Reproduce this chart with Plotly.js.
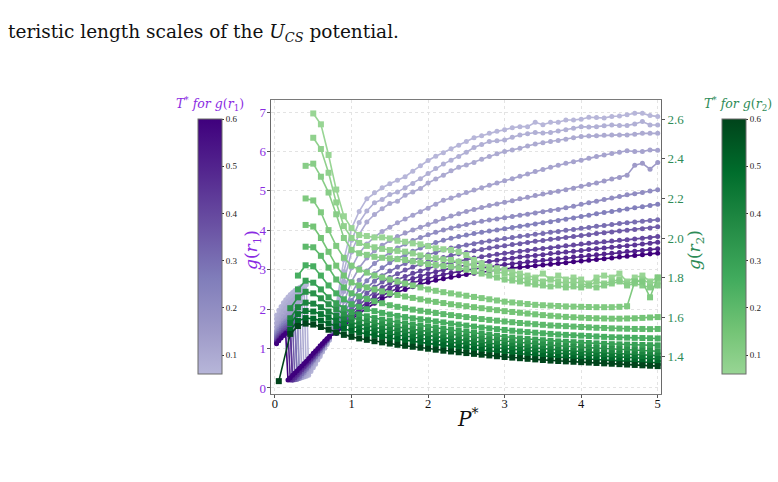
<!DOCTYPE html>
<html>
<head>
<meta charset="utf-8">
<script src="https://cdn.plot.ly/plotly-3.0.1.min.js"></script>
<style>
  html, body { margin: 0; padding: 0; background: #ffffff; }
  #plot { width: 778px; height: 482px; }
</style>
</head>
<body>
<div id="plot"></div>
<script>
// Temperatures T* shared by both families of curves
const TEMPS = [0.06, 0.08, 0.1, 0.12, 0.15, 0.2, 0.25, 0.3, 0.35, 0.4, 0.45, 0.5, 0.6];

// Pressure grid for g(r1): fine steps at low P, then 0.1 steps
const P_R1 = [0.02,0.05,0.08,0.11,0.14,0.17,0.20,0.23,0.26,0.29,0.32,0.35,0.38,0.41,0.44,0.47,0.50,0.53,0.56,0.59,0.62,0.65,0.68,0.71,
  0.8,0.9,1.0,1.1,1.2,1.3,1.4,1.5,1.6,1.7,1.8,1.9,2.0,2.1,2.2,2.3,2.4,2.5,2.6,2.7,2.8,2.9,3.0,3.1,3.2,3.3,3.4,3.5,3.6,3.7,
  3.8,3.9,4.0,4.1,4.2,4.3,4.4,4.5,4.6,4.7,4.8,4.9,5.0];

// Pressure grid for g(r2)
const P_R2 = [0.05,0.2,0.3,0.4,0.5,0.6,0.7,0.8,0.9,1.0,1.1,1.2,1.3,1.4,1.5,1.6,1.7,1.8,1.9,2.0,2.1,2.2,2.3,2.4,2.5,2.6,2.7,2.8,2.9,3.0,
  3.1,3.2,3.3,3.4,3.5,3.6,3.7,3.8,3.9,4.0,4.1,4.2,4.3,4.4,4.5,4.6,4.7,4.8,4.9,5.0];

// g(r1) at each temperature (on P_R1)
const g1_t006 = [1.85,1.97,2.07,2.16,2.24,2.31,2.37,2.42,2.47,2.51,2.55,2.58,2.6,2.62,0.32,0.42,0.51,0.6,0.71,0.8,0.91,1.01,1.1,1.21,
  2.1,3.25,4.05,4.48,4.8,4.95,5.08,5.18,5.27,5.36, 5.5,5.64,5.77,5.88,5.97,6.07,6.16,6.25,6.35,6.4,
  6.46,6.51,6.55,6.6,6.63,6.63,6.74,6.68,6.74,6.74, 6.8,6.8,6.82,6.87,6.86,6.85,6.89,6.9,6.93,6.97, 6.97,6.91,6.89];
const g1_t008 = [1.75,1.86,1.96,2.05,2.13,2.2,2.26,2.32,2.37,2.41,2.45,2.48,2.5,0.3,0.38,0.47,0.56,0.65,0.74,0.84,0.93,1.02,1.12,1.22,
  1.95,2.95,3.75,4.2,4.49,4.7,4.78,4.91,4.97,5.08, 5.19,5.31,5.44,5.57,5.68,5.78,5.87,5.98,6.1,6.18,
  6.25,6.27,6.29,6.36,6.42,6.45,6.48,6.47,6.48,6.52, 6.55,6.59,6.63,6.62,6.63,6.65,6.67,6.66,6.66,6.7, 6.76,6.67,6.67];
const g1_t010 = [1.65,1.76,1.86,1.95,2.03,2.1,2.16,2.22,2.27,2.31,2.35,2.38,0.28,0.36,0.44,0.52,0.61,0.69,0.78,0.87,0.96,1.05,1.14,1.24,
  1.85,2.7,3.45,3.9,4.21,4.4,4.55,4.68,4.74,4.89, 4.97,5.06,5.2,5.3,5.4,5.51,5.6,5.66,5.72,5.8,
  5.87,5.94,6.0,6.04,6.08,6.14,6.19,6.22,6.25,6.28, 6.31,6.35,6.38,6.39,6.4,6.41,6.42,6.42,6.42,6.44, 6.46,6.46,6.46];
const g1_t012 = [1.55,1.65,1.74,1.82,1.9,1.96,2.02,2.08,2.12,2.16,2.2,0.26,0.33,0.41,0.49,0.57,0.65,0.73,0.81,0.9,0.98,1.07,1.16,1.26,
  1.75,2.45,3.05,3.42,3.65,3.83,3.97,4.08,4.19,4.29, 4.38,4.47,4.56,4.66,4.76,4.82,4.89,4.96,5.02,5.08,
  5.14,5.2,5.26,5.31,5.37,5.43,5.49,5.54,5.6,5.65, 5.7,5.74,5.78,5.83,5.87,5.91,5.95,5.98,6.02,6.0, 6.0,6.04,6.03];
const g1_t015 = [1.45,1.55,1.64,1.72,1.79,1.85,1.9,1.94,1.97,2.0,0.25,0.32,0.4,0.47,0.55,0.62,0.7,0.78,0.86,0.94,1.02,1.1,1.19,1.28,
  1.65,2.2,2.7,3.05,3.3,3.48,3.62,3.74,3.84,3.93, 4.01,4.08,4.15,4.23,4.3,4.36,4.42,4.48,4.53,4.58,
  4.63,4.67,4.71,4.75,4.8,4.84,4.88,4.92,4.96,4.99, 5.03,5.07,5.12,5.16,5.2,5.25,5.3,5.34,5.4,5.65, 5.7,5.55,5.72];
const g1_t020 = [1.4,1.49,1.57,1.64,1.7,1.75,1.79,1.83,1.86,1.88,0.24,0.31,0.38,0.46,0.53,0.61,0.69,0.77,0.85,0.93,1.01,1.1,1.19,1.28,
  1.58,2.0,2.4,2.73,2.97,3.16,3.31,3.44,3.55,3.65, 3.74,3.82,3.89,3.95,4.01,4.06,4.11,4.15,4.19,4.23,
  4.26,4.29,4.32,4.35,4.38,4.41,4.44,4.47,4.5,4.53, 4.57,4.61,4.66,4.7,4.74,4.78,4.82,4.86,4.9,4.93, 4.96,5.0,5.03];
const g1_t025 = [1.35,1.44,1.52,1.59,1.65,1.7,1.74,1.76,1.78,0.23,0.3,0.37,0.44,0.51,0.59,0.66,0.74,0.81,0.89,0.97,1.05,1.13,1.21,1.29,
  1.52,1.88,2.22,2.5,2.72,2.9,3.05,3.18,3.29,3.38, 3.47,3.55,3.62,3.69,3.75,3.8,3.84,3.88,3.92,3.95,
  3.98,4.01,4.04,4.07,4.1,4.13,4.16,4.19,4.22,4.25, 4.28,4.31,4.35,4.38,4.42,4.45,4.48,4.51,4.54,4.57, 4.6,4.63,4.66];
const g1_t030 = [1.3,1.39,1.47,1.53,1.58,1.62,1.65,1.68,1.7,0.22,0.29,0.36,0.43,0.5,0.57,0.65,0.72,0.8,0.87,0.95,1.03,1.11,1.19,1.28,
  1.48,1.8,2.08,2.33,2.54,2.71,2.85,2.97,3.07,3.16, 3.24,3.31,3.38,3.44,3.5,3.55,3.59,3.63,3.66,3.7,
  3.73,3.76,3.79,3.82,3.85,3.87,3.9,3.92,3.95,3.97, 4.0,4.02,4.05,4.07,4.1,4.12,4.15,4.17,4.19,4.21, 4.23,4.25,4.27];
const g1_t035 = [1.25,1.34,1.41,1.47,1.52,1.56,1.58,1.6,0.21,0.28,0.35,0.42,0.49,0.56,0.63,0.7,0.77,0.85,0.92,1.0,1.07,1.15,1.22,1.3,
  1.46,1.73,1.98,2.2,2.4,2.56,2.69,2.8,2.9,2.99, 3.07,3.14,3.2,3.26,3.31,3.36,3.4,3.44,3.48,3.51,
  3.55,3.58,3.61,3.64,3.66,3.69,3.72,3.74,3.77,3.79, 3.82,3.84,3.87,3.89,3.92,3.94,3.96,3.98,4.0,4.02, 4.04,4.06,4.09];
const g1_t040 = [1.2,1.29,1.36,1.42,1.46,1.5,1.52,0.2,0.27,0.33,0.4,0.47,0.54,0.6,0.67,0.74,0.81,0.88,0.95,1.02,1.09,1.16,1.23,1.3,
  1.44,1.68,1.9,2.1,2.28,2.43,2.55,2.66,2.75,2.83, 2.91,2.97,3.03,3.09,3.14,3.18,3.22,3.26,3.3,3.33,
  3.36,3.39,3.42,3.44,3.47,3.49,3.52,3.54,3.56,3.58, 3.61,3.63,3.65,3.67,3.69,3.71,3.73,3.75,3.76,3.78, 3.8,3.82,3.84];
const g1_t045 = [1.17,1.25,1.32,1.37,1.41,1.45,1.48,0.2,0.26,0.33,0.4,0.46,0.53,0.6,0.66,0.73,0.8,0.87,0.94,1.01,1.08,1.15,1.22,1.29,
  1.42,1.63,1.83,2.02,2.18,2.32,2.44,2.54,2.63,2.71, 2.78,2.84,2.9,2.95,3.0,3.04,3.08,3.12,3.15,3.18,
  3.21,3.24,3.27,3.29,3.32,3.34,3.36,3.38,3.41,3.43, 3.45,3.47,3.49,3.51,3.53,3.55,3.57,3.59,3.61,3.63, 3.65,3.67,3.7];
const g1_t050 = [1.14,1.22,1.29,1.34,1.4,1.44,0.2,0.26,0.32,0.38,0.45,0.51,0.57,0.64,0.7,0.77,0.84,0.91,0.97,1.04,1.11,1.18,1.24,1.3,
  1.4,1.6,1.78,1.95,2.1,2.23,2.34,2.44,2.53,2.6, 2.67,2.73,2.78,2.83,2.88,2.92,2.96,2.99,3.02,3.05,
  3.08,3.1,3.13,3.15,3.17,3.2,3.22,3.24,3.26,3.28, 3.3,3.32,3.34,3.36,3.38,3.4,3.42,3.44,3.46,3.47, 3.49,3.51,3.53];
const g1_t060 = [1.12,1.2,1.27,1.33,1.38,0.2,0.26,0.32,0.38,0.44,0.5,0.56,0.62,0.68,0.75,0.81,0.88,0.94,1.0,1.07,1.13,1.19,1.25,1.31,
  1.38,1.56,1.73,1.89,2.03,2.15,2.26,2.35,2.43,2.5, 2.57,2.63,2.68,2.73,2.77,2.81,2.85,2.88,2.91,2.94,
  2.97,2.99,3.02,3.04,3.06,3.08,3.1,3.12,3.14,3.16, 3.18,3.2,3.22,3.24,3.26,3.28,3.3,3.32,3.34,3.36, 3.38,3.4,3.42];

// First pressure of each g(r2) curve (taken from P_R2)
const R2_START = [0.5, 0.5, 0.4, 0.4, 0.4, 0.4, 0.3, 0.3, 0.2, 0.2, 0.2, 0.2, 0.05];

// g(r2) at each temperature (on P_R2, from its first pressure)
const g2_t006 = [2.63,2.575,2.42,2.245,2.11,
  2.05,2.015,2.01,2.003,2.003,1.998,1.986,1.981,1.973,1.968, 1.959,1.948,1.943,1.939,1.93,1.914,1.889,1.872,1.855,1.847,
  1.84,1.83,1.82,1.81,1.8,1.82,1.79,1.81,1.79,1.8, 1.79,1.77,1.8,1.81,1.8,1.82,1.78,1.8,1.81,1.78, 1.8];
const g2_t008 = [2.507,2.45,2.33,2.18,2.06,
  2.0,1.975,1.96,1.953,1.945,1.939,1.935,1.931,1.922,1.912, 1.905,1.898,1.892,1.889,1.88,1.87,1.86,1.85,1.84,1.83,
  1.82,1.81,1.8,1.79,1.79,1.78,1.79,1.78,1.77,1.78, 1.77,1.76,1.78,1.77,1.78,1.79,1.77,1.78,1.79,1.77, 1.78];
const g2_t010 = [2.365,2.376,2.31,2.23,2.12,2.0,
  1.94,1.923,1.915,1.905,1.9,1.897,1.893,1.889,1.882,1.875, 1.868,1.863,1.858,1.855,1.848,1.84,1.83,1.82,1.81,1.8,
  1.79,1.785,1.78,1.77,1.765,1.76,1.755,1.76,1.75,1.755, 1.75,1.76,1.75,1.76,1.77,1.78,1.76,1.77,1.76,1.75, 1.76];
const g2_t012 = [2.2,2.19,2.13,2.04,1.96,1.9,
  1.86,1.84,1.825,1.81,1.8,1.79,1.78,1.77,1.76,1.75, 1.74,1.733,1.726,1.72,1.714,1.708,1.702,1.696,1.69,1.684,
  1.678,1.674,1.67,1.666,1.662,1.66,1.658,1.656,1.654,1.653, 1.652,1.651,1.65,1.65,1.65,1.652,1.655,1.78,1.78,1.7, 1.8];
const g2_t015 = [2.066,2.058,2.0,1.93,1.86,1.81,
  1.775,1.76,1.75,1.74,1.73,1.72,1.712,1.704,1.697,1.69, 1.683,1.677,1.671,1.665,1.66,1.655,1.65,1.645,1.64,1.635,
  1.63,1.626,1.622,1.618,1.614,1.61,1.607,1.604,1.601,1.599, 1.597,1.595,1.594,1.593,1.592,1.592,1.593,1.594,1.596,1.598, 1.6];
const g2_t020 = [1.956,1.953,1.91,1.85,1.79,1.75,
  1.72,1.705,1.692,1.68,1.67,1.66,1.652,1.645,1.638,1.632, 1.627,1.621,1.615,1.61,1.605,1.6,1.595,1.59,1.586,1.582,
  1.578,1.574,1.57,1.567,1.564,1.561,1.558,1.556,1.554,1.552, 1.55,1.548,1.546,1.545,1.543,1.542,1.541,1.54,1.54,1.539, 1.54];
const g2_t025 = [1.81,1.862,1.857,1.81,1.76,1.72,1.69,
  1.665,1.652,1.64,1.63,1.621,1.613,1.606,1.6,1.594,1.589, 1.584,1.578,1.573,1.567,1.562,1.557,1.552,1.547,1.543,1.539,
  1.535,1.531,1.527,1.524,1.521,1.518,1.515,1.512,1.51,1.508, 1.506,1.504,1.502,1.5,1.498,1.497,1.496,1.495,1.494,1.493, 1.492];
const g2_t030 = [1.74,1.784,1.774,1.74,1.7,1.67,1.645,
  1.625,1.614,1.604,1.595,1.587,1.58,1.574,1.568,1.562,1.557, 1.552,1.546,1.54,1.535,1.53,1.525,1.52,1.515,1.51,1.505,
  1.5,1.496,1.492,1.489,1.486,1.483,1.48,1.477,1.475,1.473, 1.471,1.469,1.467,1.465,1.463,1.462,1.461,1.46,1.459,1.458, 1.457];
const g2_t035 = [1.645,1.7,1.728,1.72,1.695,1.665,1.64,1.615,
  1.595,1.586,1.578,1.57,1.563,1.556,1.55,1.544,1.538,1.533, 1.528,1.522,1.516,1.511,1.506,1.501,1.496,1.491,1.487,1.483,
  1.479,1.475,1.471,1.467,1.464,1.461,1.458,1.455,1.452,1.45, 1.447,1.445,1.443,1.441,1.439,1.437,1.435,1.433,1.431,1.429, 1.427];
const g2_t040 = [1.594,1.65,1.673,1.668,1.65,1.628,1.607,1.588,
  1.572,1.563,1.555,1.548,1.541,1.535,1.529,1.523,1.518,1.513, 1.508,1.502,1.496,1.491,1.486,1.481,1.476,1.471,1.467,1.463,
  1.459,1.455,1.451,1.447,1.443,1.44,1.437,1.434,1.431,1.428, 1.425,1.423,1.421,1.419,1.417,1.415,1.413,1.411,1.409,1.407, 1.405];
const g2_t045 = [1.569,1.615,1.631,1.628,1.615,1.598,1.582,1.566,
  1.552,1.543,1.535,1.528,1.521,1.515,1.509,1.503,1.498,1.493, 1.488,1.482,1.477,1.472,1.467,1.462,1.457,1.453,1.449,1.445,
  1.441,1.437,1.433,1.429,1.426,1.423,1.42,1.417,1.414,1.411, 1.408,1.406,1.404,1.402,1.4,1.398,1.396,1.394,1.392,1.39, 1.388];
const g2_t050 = [1.535,1.58,1.595,1.592,1.582,1.568,1.554,1.541,
  1.53,1.522,1.514,1.507,1.5,1.494,1.488,1.482,1.477,1.472, 1.467,1.462,1.457,1.452,1.447,1.442,1.438,1.434,1.43,1.426,
  1.422,1.418,1.414,1.41,1.407,1.404,1.401,1.398,1.395,1.392, 1.389,1.387,1.385,1.383,1.381,1.379,1.377,1.375,1.373,1.371, 1.369];
const g2_t060 = [1.276,1.515,1.555,1.567,1.562,1.55,1.536,1.522,1.51,
  1.5,1.492,1.485,1.478,1.472,1.466,1.46,1.455,1.45,1.445, 1.44,1.435,1.43,1.426,1.422,1.418,1.414,1.41,1.406,1.402,
  1.398,1.395,1.392,1.389,1.386,1.383,1.38,1.378,1.376,1.374, 1.372,1.37,1.368,1.366,1.364,1.362,1.36,1.358,1.356,1.354, 1.352];

const R1_CURVES = [g1_t006,g1_t008,g1_t010,g1_t012,g1_t015,g1_t020,g1_t025,g1_t030,g1_t035,g1_t040,g1_t045,g1_t050,g1_t060];
const R2_CURVES = [g2_t006,g2_t008,g2_t010,g2_t012,g2_t015,g2_t020,g2_t025,g2_t030,g2_t035,g2_t040,g2_t045,g2_t050,g2_t060];

const CB_TICKS = [0.1, 0.2, 0.3, 0.4, 0.5, 0.6];
const R1_TICKS = [0, 1, 2, 3, 4, 5, 6, 7];
const R2_TICKS = [1.4, 1.6, 1.8, 2.0, 2.2, 2.4, 2.6];
const P_TICKS = [0, 1, 2, 3, 4, 5];

// Upper part of the sequential Purples / Greens maps
const PURPLES = [[0,'#b7b6d9'],[0.1667,'#9e9ac8'],[0.375,'#807dba'],[0.5833,'#6a51a3'],[0.7917,'#54278f'],[1,'#3f007d']];
const GREENS  = [[0,'#98d594'],[0.1667,'#74c476'],[0.375,'#41ab5d'],[0.5833,'#238b45'],[0.7917,'#006d2c'],[1,'#00441b']];

const PURPLE_TXT = '#8a2be2';
const GREEN_TXT = '#2e8b57';
const SERIF = '"Liberation Serif", "DejaVu Serif", serif';
const MATH = '"DejaVu Serif", "Liberation Serif", serif';
const W = 778, H = 482;
const TMIN = 0.06, TMAX = 0.6;

function hexToRgb(h) {
  return [parseInt(h.slice(1,3),16), parseInt(h.slice(3,5),16), parseInt(h.slice(5,7),16)];
}
function colorAt(scale, v) {
  const t = Math.min(1, Math.max(0, (v - TMIN) / (TMAX - TMIN)));
  for (let i = 1; i < scale.length; i++) {
    if (t <= scale[i][0]) {
      const a = scale[i-1], b = scale[i];
      const f = (t - a[0]) / (b[0] - a[0]);
      const ca = hexToRgb(a[1]), cb = hexToRgb(b[1]);
      const c = ca.map((x, k) => Math.round(x + (cb[k] - x) * f));
      return 'rgb(' + c.join(',') + ')';
    }
  }
  return scale[scale.length-1][1];
}

// pixel helpers for paper-referenced placement
const px = x => x / W;
const py = y => 1 - y / H;

function colorbarTrace(scale, xLeft) {
  return {
    type: 'scatter', mode: 'markers', x: [-9], y: [-9], hoverinfo: 'skip', showlegend: false,
    marker: {
      color: [TMIN], cmin: TMIN, cmax: TMAX, colorscale: scale, showscale: true, size: 1,
      colorbar: {
        x: px(xLeft), xanchor: 'left', y: py(374), yanchor: 'bottom',
        len: 255, lenmode: 'pixels', thickness: 24, thicknessmode: 'pixels',
        xpad: 0, ypad: 0, outlinewidth: 1, outlinecolor: '#6b6b6b',
        tickmode: 'array', tickvals: CB_TICKS, ticktext: CB_TICKS.map(v => v.toFixed(1)),
        ticks: 'outside', ticklen: 2, tickcolor: '#333',
        tickfont: { family: SERIF, size: 9, color: '#222' }
      }
    }
  };
}

const traces = [colorbarTrace(PURPLES, 198), colorbarTrace(GREENS, 722)];

TEMPS.forEach((T, i) => {
  const cP = colorAt(PURPLES, T);
  traces.push({
    type: 'scatter', mode: 'lines+markers', x: P_R1, y: R1_CURVES[i], yaxis: 'y', showlegend: false,
    line: { color: cP, width: 1.6 }, marker: { color: cP, size: 5, symbol: 'circle' }
  });
  const cG = colorAt(GREENS, T);
  const start = P_R2.indexOf(R2_START[i]);
  traces.push({
    type: 'scatter', mode: 'lines+markers', x: P_R2.slice(start), y: R2_CURVES[i], yaxis: 'y2', showlegend: false,
    line: { color: cG, width: 1.6 }, marker: { color: cG, size: 6, symbol: 'square' }
  });
});

function label(text, x, y, size, color, angle, family) {
  return { xref: 'paper', yref: 'paper', x: px(x), y: py(y), xanchor: 'center', yanchor: 'middle',
    showarrow: false, textangle: angle || 0, text: text,
    font: { family: family || MATH, size: size, color: color } };
}

const layout = {
  width: W, height: H,
  margin: { l: 0, r: 0, t: 0, b: 0, autoexpand: false },
  paper_bgcolor: '#ffffff', plot_bgcolor: '#ffffff',
  showlegend: false,
  font: { family: SERIF },
  xaxis: {
    domain: [px(271), px(661)], range: [-0.052, 5.043], automargin: false,
    tickmode: 'array', tickvals: P_TICKS, ticks: 'outside', ticklen: 3, tickcolor: '#555',
    ticklabelstandoff: -5,
    tickfont: { family: SERIF, size: 12.5, color: '#111' },
    showgrid: true, gridcolor: '#e3e3e3', griddash: 'dot', gridwidth: 1,
    showline: true, linecolor: '#7a7a7a', linewidth: 1.3, mirror: true, zeroline: false
  },
  yaxis: {
    domain: [py(394), py(100)], range: [-0.153, 7.306], automargin: false,
    tickmode: 'array', tickvals: R1_TICKS, ticks: 'outside', ticklen: 3, tickcolor: '#555',
    ticklabelstandoff: -2,
    tickfont: { family: SERIF, size: 13, color: PURPLE_TXT },
    showgrid: true, gridcolor: '#e3e3e3', griddash: 'dot', gridwidth: 1,
    showline: true, linecolor: '#6a6a6a', linewidth: 1.3, mirror: true, zeroline: false
  },
  yaxis2: {
    overlaying: 'y', side: 'right', range: [1.211, 2.698], automargin: false,
    tickmode: 'array', tickvals: R2_TICKS, ticktext: R2_TICKS.map(v => v.toFixed(1)),
    ticks: 'outside', ticklen: 3, tickcolor: '#555',
    tickfont: { family: SERIF, size: 13, color: GREEN_TXT },
    showgrid: false, zeroline: false, showline: false
  },
  annotations: [
    { xref: 'paper', yref: 'paper', x: px(6), y: py(33), xanchor: 'left', yanchor: 'middle', showarrow: false,
      text: 'teristic length scales of the <i>U</i><sub><i>CS</i></sub> potential.',
      font: { family: MATH, size: 18.5, color: '#111' } },
    label('<i>g</i>(<i>r</i><sub>1</sub>)', 252, 250, 17, PURPLE_TXT, -90),
    label('<i>g</i>(<i>r</i><sub>2</sub>)', 695, 250, 17, GREEN_TXT, -90),
    label('<i>P</i><sup>*</sup>', 467, 418, 20, '#111', 0),
    label('<i>T</i><sup>*</sup> <i>for g</i>(<i>r</i><sub>1</sub>)', 210, 104, 12.5, PURPLE_TXT, 0),
    label('<i>T</i><sup>*</sup> <i>for g</i>(<i>r</i><sub>2</sub>)', 738, 104, 12.5, GREEN_TXT, 0)
  ]
};

Plotly.newPlot('plot', traces, layout, { staticPlot: true, displayModeBar: false });
</script>
</body>
</html>
